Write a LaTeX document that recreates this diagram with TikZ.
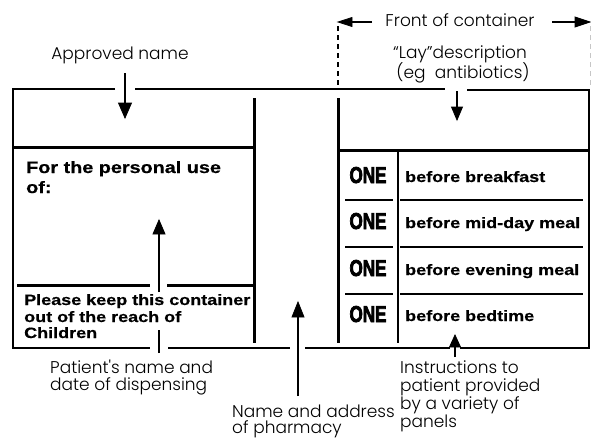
\documentclass[tikz,border=0pt]{standalone}
\usepackage{fontspec}
\IfFontExistsTF{Poppins Light}{\newfontfamily\labfont{Poppins Light}}{\newfontfamily\labfont{Poppins}}
\newfontfamily\boldwide{Liberation Sans Bold}[FakeStretch=1.2,FakeBold=0.6]
\newfontfamily\onefont{Liberation Sans Bold}[FakeStretch=0.74,FakeBold=3]
\tikzset{
  frame/.style={line width=2pt},
  heavy/.style={line width=3pt},
  sep/.style={line width=1.2pt},
  shaft/.style={line width=2pt},
  head/.style={draw=black,fill=black,line width=0.8pt,line join=miter},
  lab/.style={font=\labfont\fontsize{17}{18}\selectfont,inner sep=0pt},
  bl/.style={font=\boldwide\fontsize{15}{16}\selectfont,inner sep=0pt},
  big/.style={font=\boldwide\fontsize{16.5}{18}\selectfont,inner sep=0pt},
  one/.style={font=\onefont\fontsize{23}{24}\selectfont,inner sep=0pt},
}
\begin{document}
\begin{tikzpicture}[x=1pt,y=-1pt]
\useasboundingbox (0,0) rectangle (591,439);
% outer frame
\draw[frame] (115,89) -- (13,89) -- (13,348) -- (150,348);
\draw[frame] (135,89) -- (445,89);
\draw[frame] (467,90) -- (589,90) -- (589,348) -- (460,348);
\draw[frame] (168,348) -- (290,348);
\draw[frame] (305,348) -- (450,348);
% left panel
\draw[heavy] (254,98) -- (254,343);
\draw[heavy] (13,147) -- (254,147);
\draw[heavy] (17,285) -- (150,285);
\draw[heavy] (167,285) -- (254,285);
% right panel
\draw[heavy] (338,98) -- (338,343);
\draw[heavy] (338,150) -- (589,150);
\draw[sep] (398,150) -- (398,343);
\foreach \yy in {200,247,294}{
  \draw[sep] (345,\yy) -- (393,\yy);
  \draw[sep] (400,\yy) -- (583,\yy);
}
% front of container
\draw[sep,dashed,dash pattern=on 5pt off 4pt] (338,26) -- (338,86);
\draw[line width=0.8pt,gray!45,dashed,dash pattern=on 5pt off 4pt] (590,26) -- (590,88);
\node[lab,anchor=base] (front) at (460,26) {Front of container};
\coordinate (fl0) at (372,22); \coordinate (fl1) at (338,22);
\coordinate (fr0) at (552,22); \coordinate (fr1) at (590,22);
\draw[line width=1.8pt] (fl0) -- ++(-22,0);
\filldraw[head] (fl1) -- ++(14,-4.5) -- ++(0,9) -- cycle;
\draw[line width=1.8pt] (fr0) -- ++(24,0);
\filldraw[head] (fr1) -- ++(-15,-5) -- ++(0,10) -- cycle;
% labels top
\node[lab,anchor=base] (approved) at (120,59) {Approved name};
\node[lab,anchor=base] (lay1) at (460,58) {\textquotedblleft Lay\textquotedblright description};
\node[lab,anchor=base] (lay2) at (463,78) {(eg\ \ antibiotics)};
\coordinate (ap0) at (125,73); \coordinate (ap1) at (125,118);
\draw[shaft] (ap0) -- ++(0,33);
\filldraw[head] (ap1) -- ++(-6.5,-15) -- ++(13,0) -- cycle;
\coordinate (ly0) at (457,91); \coordinate (ly1) at (457,120);
\draw[shaft] (ly0) -- ++(0,18);
\filldraw[head] (ly1) -- ++(-5.5,-13) -- ++(11,0) -- cycle;
% left panel texts
\node[big,anchor=base west] (use1) at (26,173) {For the personal use};
\node[big,anchor=base west] (use2) at (26,193) {of:};
\node[bl,anchor=base west] (keep1) at (24,305) {Please keep this container};
\node[bl,anchor=base west] (keep2) at (24,322) {out of the reach of};
\node[bl,anchor=base west] (keep3) at (24,338) {Children};
% patient arrow
\coordinate (pa0) at (159,353); \coordinate (pa1) at (159,330);
\coordinate (pa2) at (159,292); \coordinate (pa3) at (159,220);
\draw[shaft] (pa0) -- (pa1);
\draw[shaft] (pa2) -- ++(0,-60);
\filldraw[head] (pa3) -- ++(-6,14) -- ++(12,0) -- cycle;
\node[lab,anchor=base west] (pat1) at (50,373) {Patient's name and};
\node[lab,anchor=base west] (pat2) at (50,390) {date of dispensing};
% pharmacy
\coordinate (ph0) at (298,396); \coordinate (ph1) at (298,302);
\draw[shaft] (ph0) -- ++(0,-82);
\filldraw[head] (ph1) -- ++(-6,15) -- ++(12,0) -- cycle;
\node[lab,anchor=base west] (nm1) at (232,417) {Name and address};
\node[lab,anchor=base west] (nm2) at (232,433) {of pharmacy};
% right panel texts
\node[one,anchor=base] (o1) at (368,183) {ONE};
\node[one,anchor=base] (o2) at (368,229) {ONE};
\node[one,anchor=base] (o3) at (368,276) {ONE};
\node[one,anchor=base] (o4) at (368,322) {ONE};
\node[bl,anchor=base west] (t1) at (405,182) {before breakfast};
\node[bl,anchor=base west] (t2) at (405,228) {before mid-day meal};
\node[bl,anchor=base west] (t3) at (405,275) {before evening meal};
\node[bl,anchor=base west] (t4) at (405,321) {before bedtime};
% instructions
\coordinate (in0) at (455,357); \coordinate (in1) at (455,335);
\draw[shaft] (in0) -- ++(0,-12);
\filldraw[head] (in1) -- ++(-5.5,12) -- ++(11,0) -- cycle;
\node[lab,anchor=base west] (ins1) at (400,373) {Instructions to};
\node[lab,anchor=base west] (ins2) at (400,391) {patient provided};
\node[lab,anchor=base west] (ins3) at (400,409) {by a variety of};
\node[lab,anchor=base west] (ins4) at (400,427) {panels};
\end{tikzpicture}
\end{document}
